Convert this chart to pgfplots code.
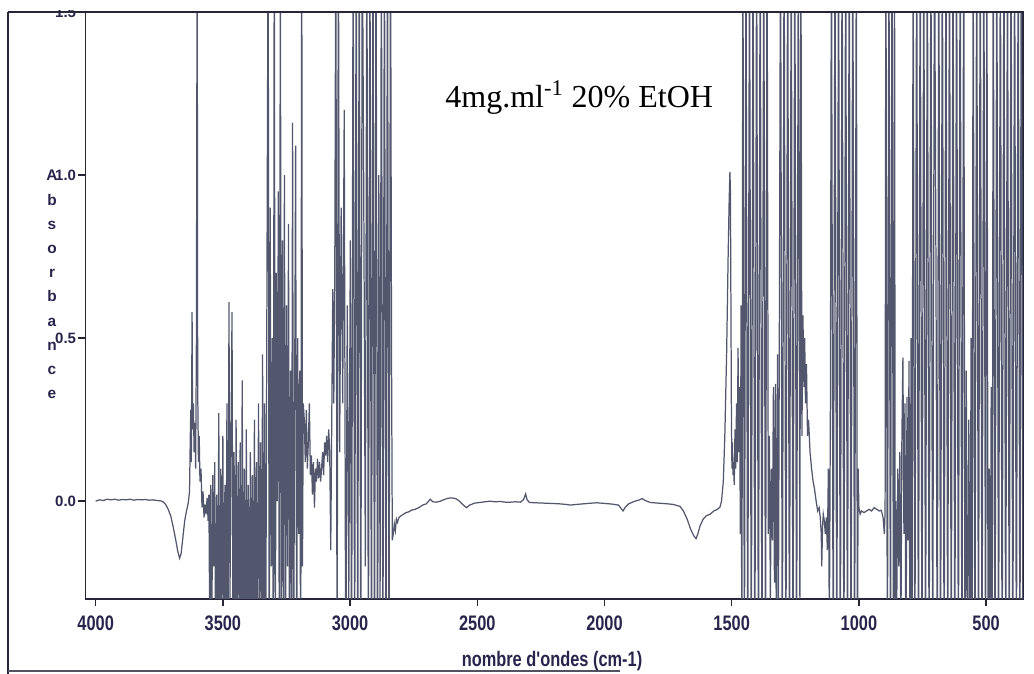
\documentclass[border=0pt]{standalone}
\usepackage{pgfplots}
\pgfplotsset{compat=1.18}
\usepackage{pgfplotstable}
\usepackage{graphicx}
\usepackage{fontspec}
\setmainfont{Liberation Sans}
\newfontfamily\serifft{Liberation Serif}
\definecolor{txt}{rgb}{0.16,0.14,0.30}
\definecolor{spec}{rgb}{0.32,0.34,0.43}
\definecolor{frame}{rgb}{0.15,0.15,0.22}

\pgfplotstableread{
x y
4000 0.000
3985 0.004
3970 0.002
3955 0.006
3940 0.004
3925 0.006
3910 0.003
3895 0.005
3880 0.004
3865 0.006
3850 0.003
3835 0.005
3820 0.004
3805 0.005
3790 0.003
3775 0.004
3760 0.002
3745 0.001
3735 -0.002
3725 -0.01
3715 -0.025
3705 -0.045
3695 -0.08
3685 -0.12
3677 -0.155
3670 -0.175
3664 -0.16
3657 -0.11
3650 -0.06
3643 -0.03
3636 -0.005
3631 0.03
3628 0.2
3626 0.28
3624 0.12
3621 0.58
3619 0.22
3616 0.3
3613 0.15
3610 0.24
3607 0.1
3604 0.5
3601 1.8
3599 0.35
3596 0.12
3593 0.2
3590 0.06
3586 0.1
3582 -0.02
3578 0.03
3574 -0.05
3570 -0.01
3566 -0.04
3562 0.01
3558 -0.06
3555 0.02
3552 -0.35
3548 0.05
3544 -0.5
3540 0.08
3536 -0.2
3532 0.12
3528 -0.6
3524 0.02
3520 -0.4
3516 0.27
3512 -0.6
3508 0.1
3504 -0.3
3500 0.2
3496 -0.6
3492 0.05
3488 -0.45
3484 0.3
3480 -0.6
3476 0.61
3472 -0.3
3468 0.2
3464 0.58
3460 -0.6
3456 0.15
3452 -0.5
3448 0.25
3444 -0.6
3440 0.12
3436 -0.3
3432 0.18
3428 -0.6
3424 0.37
3420 -0.5
3416 0.1
3412 -0.6
3408 0.22
3404 -0.4
3400 0.05
3396 -0.6
3392 0.15
3388 -0.35
3384 0.08
3380 -0.6
3376 0.25
3372 -0.45
3368 0.12
3364 -0.6
3360 0.3
3356 -0.3
3352 0.18
3348 -0.6
3344 0.45
3340 -0.5
3336 0.3
3332 -0.6
3327 0.6
3322 1.8
3318 -0.6
3314 0.9
3310 -0.2
3306 0.5
3302 -0.6
3298 1.8
3294 -0.6
3290 0.7
3286 0.0
3282 0.95
3278 -0.6
3274 1.8
3270 -0.6
3266 0.8
3262 -0.3
3258 1.0
3254 -0.6
3250 0.6
3246 -0.2
3242 0.85
3238 -0.6
3234 0.4
3230 -0.4
3226 1.16
3222 -0.6
3218 0.3
3214 1.09
3210 -0.6
3206 0.5
3202 -0.1
3198 0.4
3194 -0.6
3190 1.8
3187 -0.2
3184 0.3
3180 0.25
3176 0.12
3172 0.28
3168 0.1
3164 0.18
3160 0.3
3156 0.08
3152 0.14
3148 0.02
3144 0.12
3140 -0.02
3136 0.1
3132 0.06
3128 0.13
3124 0.07
3120 0.12
3116 0.06
3112 0.1
3108 0.15
3104 0.08
3100 0.18
3096 0.14
3092 0.2
3088 0.12
3084 0.22
3080 0.15
3076 -0.15
3072 0.25
3068 0.65
3064 0.3
3060 0.72
3056 1.8
3051 -0.6
3046 1.8
3041 0.15
3035 0.9
3029 0.3
3023 1.2
3017 -0.6
3011 0.6
3005 -0.3
2999 0.8
2994 -0.6
2988 1.8
2982 -0.6
2976 1.8
2970 -0.6
2964 1.8
2958 -0.6
2952 1.8
2946 0.9
2940 -0.2
2934 1.8
2928 -0.6
2922 1.8
2916 -0.6
2910 1.8
2904 -0.6
2898 1.8
2892 -0.6
2887 1.0
2882 -0.3
2877 1.8
2871 -0.6
2865 1.8
2859 -0.6
2853 1.8
2847 -0.6
2841 1.8
2837 0.44
2834 -0.12
2830 -0.1
2826 -0.07
2822 -0.09
2818 -0.055
2814 -0.065
2808 -0.05
2800 -0.045
2790 -0.04
2780 -0.035
2770 -0.033
2760 -0.028
2745 -0.025
2730 -0.02
2715 -0.012
2700 -0.008
2685 0.006
2675 -0.002
2660 -0.003
2645 0.0
2630 0.005
2615 0.009
2600 0.01
2585 0.008
2570 0.0
2555 -0.012
2542 -0.02
2530 -0.012
2510 -0.006
2490 -0.004
2470 -0.002
2450 0.0
2430 -0.002
2410 -0.001
2390 -0.003
2370 -0.003
2350 -0.002
2330 -0.003
2318 0.005
2310 0.022
2304 0.004
2295 -0.004
2270 -0.005
2240 -0.006
2210 -0.007
2180 -0.008
2150 -0.01
2135 -0.012
2110 -0.01
2080 -0.008
2050 -0.006
2030 -0.005
2000 -0.007
1970 -0.009
1945 -0.012
1935 -0.022
1927 -0.03
1918 -0.018
1905 -0.008
1880 0.0
1862 0.004
1852 0.008
1840 0.002
1820 -0.004
1790 -0.006
1755 -0.008
1730 -0.01
1703 -0.016
1690 -0.03
1675 -0.055
1662 -0.085
1650 -0.105
1640 -0.115
1633 -0.1
1624 -0.075
1612 -0.055
1600 -0.045
1585 -0.04
1570 -0.03
1556 -0.025
1546 -0.018
1540 0.0
1533 0.06
1527 0.2
1520 0.45
1514 0.75
1510 0.92
1507 1.01
1505 0.95
1503 0.6
1501 0.25
1499 0.1
1497 0.18
1495 0.08
1493 0.12
1490 0.05
1487 0.22
1484 0.1
1481 0.3
1478 0.12
1475 0.47
1472 0.15
1469 0.35
1466 -0.1
1463 0.6
1460 -0.6
1456 1.8
1450 -0.6
1444 1.8
1437 -0.6
1430 1.8
1423 -0.6
1416 1.8
1409 -0.6
1402 1.8
1395 -0.6
1388 1.8
1381 -0.6
1374 1.8
1367 -0.6
1361 1.8
1356 -0.1
1352 0.2
1348 -0.3
1344 0.1
1340 -0.12
1336 0.35
1332 -0.25
1328 0.36
1324 -0.6
1320 0.45
1316 -0.3
1312 0.7
1308 1.8
1301 -0.6
1294 1.8
1287 -0.6
1280 1.8
1273 -0.6
1266 1.8
1259 -0.6
1252 1.8
1245 -0.6
1238 1.8
1232 -0.3
1228 1.8
1224 0.2
1220 0.57
1216 0.35
1213 0.5
1210 0.3
1206 0.42
1202 0.2
1198 0.25
1192 0.15
1186 0.1
1180 0.06
1175 0.04
1168 0.0
1162 -0.03
1156 -0.02
1152 -0.05
1148 -0.1
1146 -0.2
1143 -0.08
1140 -0.04
1136 -0.06
1132 -0.1
1128 -0.05
1124 -0.15
1120 0.1
1116 -0.4
1112 0.3
1108 1.8
1101 -0.6
1094 1.8
1087 -0.6
1080 1.8
1073 -0.6
1066 1.8
1059 -0.6
1052 1.8
1045 -0.6
1038 1.8
1031 -0.6
1024 1.8
1017 -0.6
1010 1.8
1006 -0.6
1003 0.1
1000 -0.02
995 -0.04
990 -0.03
980 -0.035
970 -0.03
960 -0.025
950 -0.03
940 -0.02
930 -0.025
920 -0.03
912 -0.028
905 -0.05
900 -0.1
897 -0.03
894 1.8
888 -0.6
882 1.8
876 -0.6
870 1.8
864 -0.6
860 1.8
857 -0.6
855 0.0
851 -0.3
847 0.1
843 -0.2
839 0.15
835 -0.45
831 0.2
827 0.44
823 -0.1
819 0.3
815 -0.6
811 0.32
807 -0.12
803 0.43
799 -0.6
795 0.5
791 -0.6
787 1.8
780 -0.6
773 1.8
766 -0.6
759 1.8
752 -0.6
745 1.8
738 -0.6
731 1.8
724 -0.6
717 1.8
710 -0.6
703 1.8
697 0.7
692 -0.6
686 1.8
679 -0.6
672 1.8
665 -0.6
658 1.8
651 -0.6
644 1.8
637 -0.6
630 1.8
623 -0.6
616 1.8
609 -0.6
602 1.8
595 -0.6
588 1.8
583 -0.6
578 0.4
573 -0.6
568 0.25
563 -0.5
559 0.5
555 -0.6
551 1.8
544 -0.6
537 1.8
530 -0.6
523 1.8
516 -0.6
509 1.8
502 -0.6
497 1.8
492 -0.6
488 0.1
484 -0.5
480 0.35
476 -0.6
472 1.8
465 -0.6
458 1.8
451 -0.6
444 1.8
437 -0.6
430 1.8
423 -0.6
416 1.8
409 -0.6
402 1.8
395 -0.6
388 1.8
381 -0.6
374 1.8
367 -0.6
362 1.8
358 0.6
355 -0.6
}\spectrum

\begin{document}
\begin{tikzpicture}
\useasboundingbox (-42.75pt,-37.5pt) rectangle (474.25pt,299.5pt);
\begin{axis}[
  at={(0pt,0pt)}, anchor=south west,
  scale only axis,
  width=468.75pt, height=293.5pt,
  x dir=reverse,
  xmin=355, xmax=4040,
  ymin=-0.3, ymax=1.5,
  xtick={500,1000,1500,2000,2500,3000,3500,4000},
  ytick={0,0.5,1.0,1.5},
  tick pos=left,
  tick align=outside,
  major tick length=3.5pt,
  tick style={frame, line width=0.7pt},
  axis line style={frame, line width=0.8pt},
  /pgf/number format/assume math mode=true,
  xticklabel={\scalebox{0.78}[1]{\pgfmathprintnumber[1000 sep={}]{\tick}}},
  xticklabel style={font=\fontsize{10.5}{11}\selectfont\bfseries, text=txt, anchor=north, yshift=-1.5pt},
  yticklabel style={font=\fontsize{7.5}{8}\selectfont\bfseries, text=txt, inner xsep=1pt,
     /pgf/number format/.cd, fixed, fixed zerofill, precision=1},
  scaled y ticks=false,
]
\addplot[spec, line width=0.62pt] table[x=x, y=y] {\spectrum};
\end{axis}
% cover the top part of the cut 1.5 label, as in the scan
\fill[white] (-40pt,294.3pt) rectangle (-0.5pt,299.5pt);
% scanned page frame
\draw[frame, line width=0.8pt] (-38.75pt,293.5pt) -- (468.75pt,293.5pt);
\draw[frame, line width=0.8pt] (-38.75pt,293.5pt) -- (-38.75pt,-37.5pt);
\draw[frame!80, line width=0.9pt] (-38.75pt,-36pt) -- (267pt,-36pt);
% annotation
\node[anchor=base west, inner sep=0pt, font=\serifft\fontsize{16}{18}\selectfont] at (179.75pt,245.5pt) {4mg.ml\textsuperscript{-1} 20\% EtOH};
% x label
\node[font=\fontsize{10.5}{11}\selectfont\bfseries, text=txt] at (233.25pt,-31pt) {\scalebox{0.78}[1]{nombre d\textquotesingle ondes (cm-1)}};
% stacked y label
\foreach \l [count=\i] in {A,b,s,o,r,b,a,n,c,e}
  \node[anchor=base, inner sep=0pt, font=\fontsize{7.7}{8}\selectfont\bfseries, text=txt] at (-16.75pt,{209pt-(\i-1)*12.1pt}) {\l};
\end{tikzpicture}
\end{document}
